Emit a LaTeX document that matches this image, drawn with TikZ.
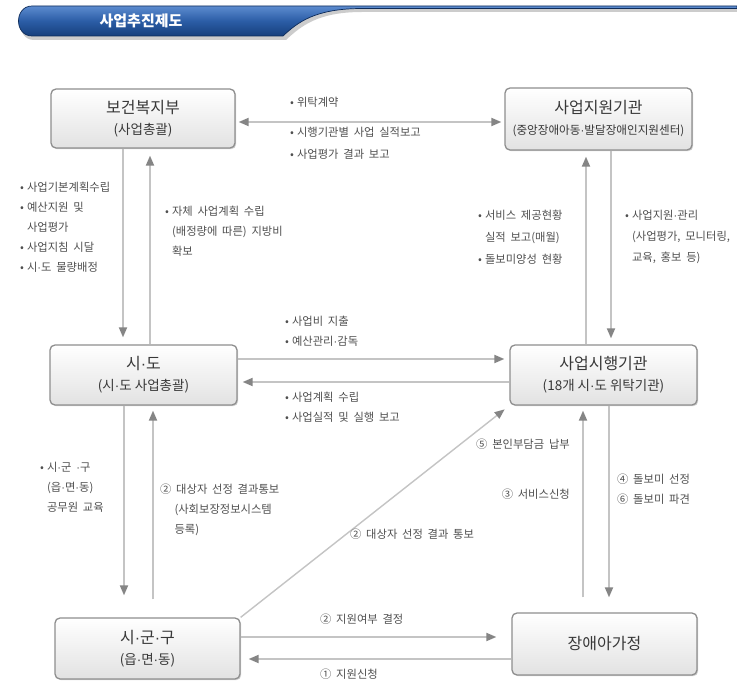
\documentclass[tikz,border=0pt]{standalone}
\usepackage{fontspec}
\setmainfont{Noto Sans CJK KR}
\newfontfamily\latinf{Liberation Sans}
\newcommand\mdt{{\latinf ·}}
\newcommand\bul{•\kern3pt}
\newcommand\widesp{\spaceskip=0.42em\relax}
\usetikzlibrary{arrows.meta,shadows}
\definecolor{lblgray}{HTML}{505050}
\definecolor{boxtext}{HTML}{383838}
\definecolor{boxborder}{HTML}{8E8E8E}
\definecolor{boxbot}{HTML}{E2E2E2}
\definecolor{linegray}{HTML}{C4C4C4}
\definecolor{headgray}{HTML}{858585}
\definecolor{bannertop}{HTML}{5C8BCF}
\definecolor{bannermid}{HTML}{2B5DA6}
\definecolor{bannerbot}{HTML}{163F7C}
\definecolor{bannerdark}{HTML}{0E2C5A}
\begin{document}
\begin{tikzpicture}[x=1pt,y=-1pt,
  >={Triangle[length=10pt,width=8pt,color=headgray]},
  box/.style={draw=boxborder,line width=1.3pt,rounded corners=5pt,top color=white,bottom color=boxbot,
    drop shadow={shadow xshift=1.2pt,shadow yshift=-1.2pt,opacity=0.18,fill=black},
    align=center,text=boxtext,inner sep=0pt,font=\fontsize{13.5}{21}\selectfont},
  arr/.style={draw=linegray,line width=1.8pt,->},
  darr/.style={draw=linegray,line width=1.8pt,<->},
  lbl/.style={text=lblgray,font=\fontsize{11.3}{20}\selectfont\widesp,align=left,inner sep=0pt,anchor=north west},
]
\useasboundingbox (0,0) rectangle (737,687);
\fill[white] (0,0) rectangle (737,687);

% header banner
\fill[black,opacity=0.2] (34,9) -- (737,9) -- (737,12) -- (362,12) .. controls (318,12) and (301,26) .. (286,40) -- (34,40) .. controls (16,40) and (16,9) .. (34,9) -- cycle;
\shade[top color=bannertop,bottom color=bannerbot,middle color=bannermid,draw=bannerdark,line width=0.7pt]
  (32,6) -- (737,6) -- (737,8.5) -- (360,8.5) .. controls (315,9) and (298,22) .. (283,36) -- (32,36) .. controls (14,36) and (14,6) .. (32,6) -- cycle;
\node[text=white,font=\bfseries\fontsize{15}{16}\selectfont,inner sep=0pt] (bannertitle) at (141,21) {사업추진제도};

% boxes
\node[box,minimum width=184pt,minimum height=59pt] (mohw) at (143,118.5) {{\fontsize{16}{21}\selectfont 보건복지부}\\(사업총괄)};
\node[box,minimum width=187pt,minimum height=62pt] (support) at (598.5,119) {{\fontsize{16}{21}\selectfont 사업지원기관}\\{\fontsize{11.6}{21}\selectfont (중앙장애아동\mdt 발달장애인지원센터)}};
\node[box,minimum width=187pt,minimum height=60pt] (sido) at (143.5,375) {{\fontsize{16}{21}\selectfont 시\mdt 도}\\(시\mdt 도 사업총괄)};
\node[box,minimum width=187pt,minimum height=60pt] (exec) at (603.5,375) {{\fontsize{16}{21}\selectfont 사업시행기관}\\(18개 시\mdt 도 위탁기관)};
\node[box,minimum width=185pt,minimum height=61pt] (sigungu) at (147.5,648.5) {{\fontsize{16}{21}\selectfont 시\mdt 군\mdt 구}\\(읍\mdt 면\mdt 동)};
\node[box,minimum width=185pt,minimum height=62pt,font=\fontsize{16}{21}\selectfont] (family) at (604.5,644) {장애아가정};

% connectors
\draw[darr,shorten <=3pt,shorten >=3pt] (mohw.east |- 0,122) -- (support.west |- 0,122);
\draw[arr,shorten >=7pt] (mohw.south -| 123,0) -- (sido.north -| 123,0);
\draw[arr,shorten >=7pt] (sido.north -| 150,0) -- (mohw.south -| 150,0);
\draw[arr,shorten >=6pt] (exec.north -| 586,0) -- (support.south -| 586,0);
\draw[arr,shorten >=6pt] (support.south -| 611,0) -- (exec.north -| 611,0);
\draw[arr,shorten >=5pt] (sido.east |- 0,359) -- (exec.west |- 0,359);
\draw[arr,shorten >=5pt] (exec.west |- 0,382) -- (sido.east |- 0,382);
\draw[arr,shorten >=22pt] (sido.south -| 124,0) -- (sigungu.north -| 124,0);
\draw[arr,shorten <=18pt,shorten >=5pt] (sigungu.north -| 153,0) -- (sido.south -| 153,0);
\draw[arr,shorten <=15pt,shorten >=5pt] (family.north -| 583,0) -- (exec.south -| 583,0);
\draw[arr,shorten >=15pt] (exec.south -| 609,0) -- (family.north -| 609,0);
\draw[arr,line width=1.4pt,shorten >=6pt] (sigungu.north east) -- (exec.south west);
\draw[arr,shorten >=15pt] (sigungu.east |- 0,637) -- (family.west |- 0,637);
\draw[arr,shorten >=8pt] (family.west |- 0,659) -- (sigungu.east |- 0,659);

% labels
\node[lbl] (l1) at (290,97) {\bul 위탁계약};
\node[lbl,font=\fontsize{11.3}{22}\selectfont\widesp] (l2) at (290,127) {\bul 시행기관별 사업 실적보고\\\bul 사업평가 결과 보고};
\node[lbl] (l3) at (20,182) {\bul 사업기본계획수립\\\bul 예산지원 및\\\phantom{\bul}사업평가\\\bul 사업지침 시달\\\bul 시\mdt 도 물량배정};
\node[lbl] (l4) at (165,206) {\bul 자체 사업계획 수립\\\phantom{\bul}(배정량에 따른) 지방비\\\phantom{\bul}확보};
\node[lbl,font=\fontsize{11.3}{22}\selectfont\widesp] (l5) at (478,210) {\bul 서비스 제공현황\\\phantom{\bul}실적 보고(매월)\\\bul 돌보미양성 현황};
\node[lbl,font=\fontsize{11.3}{21}\selectfont\widesp] (l6) at (625,210) {\bul 사업지원\mdt 관리\\\phantom{\bul}(사업평가, 모니터링,\\\phantom{\bul}교육, 홍보 등)};
\node[lbl] (l7) at (285,316) {\bul 사업비 지출\\\bul 예산관리\mdt 감독};
\node[lbl] (l8) at (285,392) {\bul 사업계획 수립\\\bul 사업실적 및 실행 보고};
\node[lbl] (l9) at (40,462) {\bul 시\mdt 군 \mdt 구\\\phantom{\bul}(읍\mdt 면\mdt 동)\\\phantom{\bul}공무원 교육};
\node[lbl] (l10) at (160,484) {② 대상자 선정 결과통보\\\phantom{②\kern3pt}(사회보장정보시스템\\\phantom{②\kern3pt}등록)};
\node[lbl,anchor=north east] (l11) at (570,439) {⑤ 본인부담금 납부};
\node[lbl,anchor=north east] (l12) at (570,489) {③ 서비스신청};
\node[lbl] (l13) at (617,474) {④ 돌보미 선정\\⑥ 돌보미 파견};
\node[lbl] (l14) at (350,529) {② 대상자 선정 결과 통보};
\node[lbl] (l15) at (320,614) {② 지원여부 결정};
\node[lbl] (l16) at (320,669) {① 지원신청};
\end{tikzpicture}
\end{document}
